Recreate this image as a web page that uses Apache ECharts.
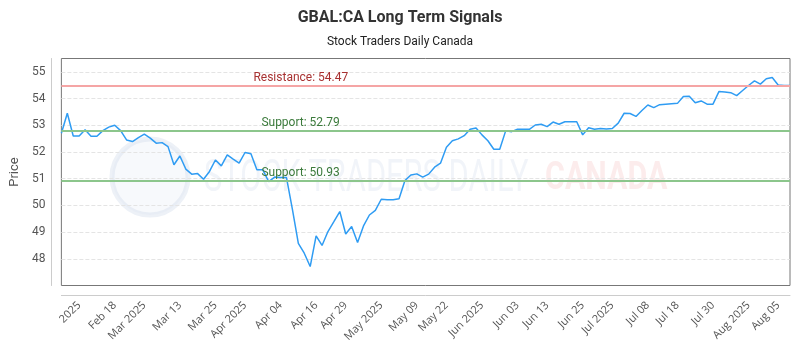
<!DOCTYPE html>
<html>
<head>
<meta charset="utf-8">
<title>GBAL:CA Long Term Signals</title>
<script src="https://cdn.jsdelivr.net/npm/echarts@6/dist/echarts.min.js"></script>
<style>
html, body { margin: 0; padding: 0; background: #fff; }
#main { width: 800px; height: 350px; }
</style>
</head>
<body>
<div id="main"></div>
<script>
// closing prices
var prices = [
    52.70, 53.45, 52.60, 52.60, 52.83, 52.59, 52.59, 52.80, 52.93, 53.00,
    52.80, 52.45, 52.39, 52.54, 52.67, 52.52, 52.33, 52.35, 52.20, 51.52,
    51.85, 51.36, 51.17, 51.19, 50.98, 51.27, 51.70, 51.48, 51.89, 51.73,
    51.58, 51.98, 51.93, 51.33, 51.33, 50.89, 51.06, 51.04, 51.04, 49.85,
    48.58, 48.21, 47.71, 48.86, 48.50, 49.02, 49.39, 49.77, 48.93, 49.21,
    48.61, 49.23, 49.64, 49.81, 50.23, 50.21, 50.21, 50.25, 50.93, 51.14,
    51.18, 51.06, 51.17, 51.43, 51.58, 52.18, 52.42, 52.49, 52.61, 52.85,
    52.90, 52.64, 52.42, 52.10, 52.10, 52.79, 52.76, 52.85, 52.85, 52.85,
    53.01, 53.04, 52.95, 53.12, 53.04, 53.13, 53.13, 53.13, 52.64, 52.91,
    52.85, 52.88, 52.86, 52.88, 53.08, 53.45, 53.44, 53.33, 53.55, 53.76,
    53.66, 53.77, 53.79, 53.81, 53.82, 54.08, 54.09, 53.84, 53.91, 53.79,
    53.79, 54.26, 54.25, 54.22, 54.11, 54.30, 54.49, 54.66, 54.54, 54.74,
    54.79, 54.51, 54.49, 54.49
];

// where the date labels sit along the series, and their text
var tickIndex = [3, 9, 14, 20, 26, 31, 37, 43, 48, 54, 60, 65, 71, 77, 82, 88, 93, 99, 104, 110, 116, 121];
var tickLabels = ['2025', 'Feb 18', 'Mar 2025', 'Mar 13', 'Mar 25', 'Apr 2025', 'Apr 04', 'Apr 16',
    'Apr 29', 'May 2025', 'May 09', 'May 22', 'Jun 2025', 'Jun 03', 'Jun 13', 'Jun 25',
    'Jul 2025', 'Jul 08', 'Jul 18', 'Jul 30', 'Aug 2025', 'Aug 05'];

var resistance = 54.47;
var supports = [52.79, 50.93];

var categories = prices.map(function(p, i) {
    return String(i);
});

var chart = echarts.init(document.getElementById('main'));

function levelLine(value, name, lineColor, textColor, along) {
    return {
        yAxis: value,
        lineStyle: { color: lineColor, width: 2, type: 'solid' },
        label: {
            formatter: name + ': ' + value.toFixed(2),
            color: textColor,
            fontSize: 12,
            fontFamily: 'Roboto',
            position: 'insideStartTop',
            distance: [along, 2]
        }
    };
}

var option = {
    animation: false,
    backgroundColor: '#fff',
    title: {
        text: 'GBAL:CA Long Term Signals',
        subtext: 'Stock Traders Daily Canada',
        left: 'center',
        top: 5,
        itemGap: 10,
        textStyle: { fontFamily: 'Roboto', fontSize: 16, fontWeight: 'bold', color: '#333' },
        subtextStyle: { fontFamily: 'Roboto', fontSize: 12, color: '#222' }
    },
    graphic: {
        elements: [{
            type: 'circle',
            silent: true,
            z: -10,
            shape: { cx: 150, cy: 177, r: 38 },
            style: { fill: 'rgba(230,236,245,0.3)', stroke: 'rgba(210,220,235,0.4)', lineWidth: 5 }
        }, {
            type: 'text',
            silent: true,
            z: -10,
            left: 204,
            top: 158,
            scaleX: 0.7,
            style: {
                text: 'STOCK TRADERS DAILY',
                font: '44px Roboto',
                fill: 'rgba(205,216,232,0.28)'
            }
        }, {
            type: 'text',
            silent: true,
            z: -10,
            left: 545,
            top: 160,
            scaleX: 0.8,
            style: {
                text: 'CANADA',
                font: 'bold 38px Roboto',
                fill: 'rgba(245,185,185,0.28)'
            }
        }]
    },
    grid: {
        show: true,
        left: 60,
        right: 10,
        top: 58.5,
        bottom: 64.5,
        borderColor: '#777',
        borderWidth: 1,
        containLabel: false
    },
    xAxis: {
        type: 'category',
        data: categories,
        boundaryGap: false,
        offset: 10,
        axisLine: { lineStyle: { color: '#ccc' } },
        axisTick: { show: false },
        splitLine: { show: false },
        axisLabel: {
            rotate: 45,
            color: '#555',
            fontSize: 11,
            fontFamily: 'Open Sans',
            margin: 8,
            interval: function(index) {
                return tickIndex.indexOf(index) >= 0;
            },
            formatter: function(value, index) {
                var k = tickIndex.indexOf(index);
                return k >= 0 ? tickLabels[k] : '';
            }
        }
    },
    yAxis: {
        type: 'value',
        min: 47,
        max: 55.5,
        interval: 1,
        offset: 10,
        name: 'Price',
        nameLocation: 'middle',
        nameGap: 27,
        nameTextStyle: { color: '#555', fontSize: 13, fontFamily: 'Roboto' },
        axisLine: { show: true, lineStyle: { color: '#ccc' } },
        axisTick: { show: false },
        splitLine: {
            showMinLine: false,
            showMaxLine: false,
            lineStyle: { color: '#e4e4e4', type: 'dashed' }
        },
        axisLabel: {
            color: '#555',
            fontSize: 12,
            fontFamily: 'Roboto',
            margin: 6,
            showMinLabel: false,
            formatter: function(v) {
                return (v % 1 === 0 && v > 47) ? String(v) : '';
            }
        }
    },
    series: [{
        type: 'line',
        data: prices,
        showSymbol: false,
        lineStyle: { color: '#2f9cf3', width: 1.5 },
        itemStyle: { color: '#2f9cf3' },
        z: 3,
        markLine: {
            silent: true,
            symbol: 'none',
            data: [
                levelLine(resistance, 'Resistance', '#f5a5a5', '#a83232', 192),
                levelLine(supports[0], 'Support', '#8cc68c', '#3b7a3b', 200),
                levelLine(supports[1], 'Support', '#8cc68c', '#3b7a3b', 200)
            ]
        }
    }]
};

chart.setOption(option);
</script>
</body>
</html>
